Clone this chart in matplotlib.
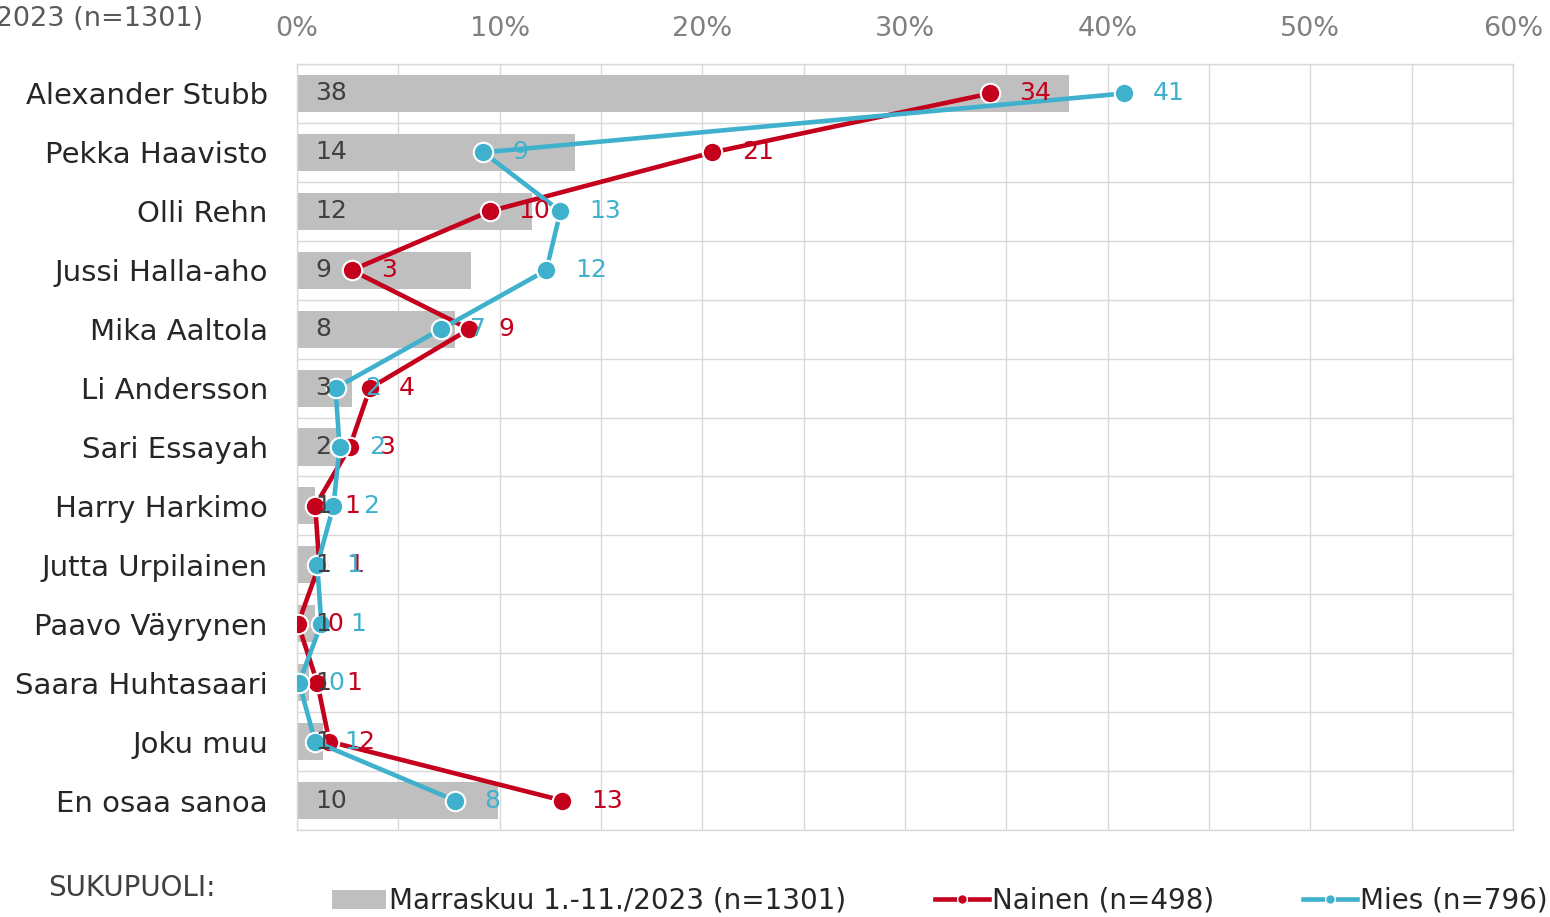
import matplotlib
matplotlib.use("Agg")
import matplotlib.pyplot as plt
from matplotlib.lines import Line2D
from matplotlib.patches import Patch
import numpy as np

plt.rcParams['font.family'] = ['DejaVu Sans']

# data (percent)
names = ["Alexander Stubb", "Pekka Haavisto", "Olli Rehn", "Jussi Halla-aho",
         "Mika Aaltola", "Li Andersson", "Sari Essayah", "Harry Harkimo",
         "Jutta Urpilainen", "Paavo Väyrynen", "Saara Huhtasaari", "Joku muu",
         "En osaa sanoa"]
total = [38.1, 13.7, 11.6, 8.6, 7.8, 2.7, 2.1, 0.9, 1.1, 0.9, 0.6, 1.3, 9.9]
nainen = [34.2, 20.5, 9.5, 2.7, 8.5, 3.6, 2.6, 0.9, 1.1, 0.05, 1.0, 1.6, 13.1]
mies = [40.8, 9.2, 13.0, 12.3, 7.1, 1.9, 2.1, 1.8, 1.0, 1.2, 0.1, 0.9, 7.8]

total_lbl = [38, 14, 12, 9, 8, 3, 2, 1, 1, 1, 1, 1, 10]
nainen_lbl = [34, 21, 10, 3, 9, 4, 3, 1, 1, 0, 1, 2, 13]
mies_lbl = [41, 9, 13, 12, 7, 2, 2, 2, 1, 1, 0, 1, 8]

RED = "#C4001C"
CYAN = "#40B1CD"
GREY = "#BFBFBF"
GRID = "#D9D9D9"

W, H = 1550, 917
fig = plt.figure(figsize=(W / 100, H / 100), dpi=100)
ax = fig.add_axes([297 / W, 1 - 830 / H, (1513 - 297) / W, (830 - 64) / H])

y = np.arange(len(names))
ax.barh(y, total, height=0.63, color=GREY, zorder=2)

ax.plot(nainen, y, color=RED, lw=3.3, marker="o", ms=14, mfc=RED,
        mec="white", mew=1.5, zorder=3)
ax.plot(mies, y, color=CYAN, lw=3.3, marker="o", ms=14, mfc=CYAN,
        mec="white", mew=1.5, zorder=4)

fs = 18
for i in range(len(names)):
    ax.text(0.9, y[i], str(total_lbl[i]), ha="left", va="center",
            fontsize=fs, color="#404040", zorder=6)
    ax.annotate(str(nainen_lbl[i]), (nainen[i], y[i]), xytext=(21, 0),
                textcoords="offset points", ha="left", va="center",
                fontsize=fs, color=RED, zorder=5)
    ax.annotate(str(mies_lbl[i]), (mies[i], y[i]), xytext=(21, 0),
                textcoords="offset points", ha="left", va="center",
                fontsize=fs, color=CYAN, zorder=5)

ax.set_xlim(0, 60)
ax.set_ylim(len(names) - 0.5, -0.5)

ax.xaxis.tick_top()
ax.set_xticks(np.arange(0, 61, 10))
ax.set_xticklabels([f"{v}%" for v in range(0, 61, 10)])
ax.set_xticks(np.arange(5, 60, 10), minor=True)
ax.tick_params(axis="x", which="both", length=0, pad=16, labelsize=19.5,
               labelcolor="#808080")
ax.set_yticks(y)
ax.set_yticklabels(names)
ax.tick_params(axis="y", length=0, pad=21, labelsize=21, labelcolor="#262626")

ax.set_yticks(np.arange(-0.5, len(names), 1), minor=True)
ax.grid(which="both", axis="x", color=GRID, lw=1, zorder=0)
ax.grid(which="minor", axis="y", color=GRID, lw=1, zorder=0)
ax.tick_params(axis="y", which="minor", length=0)
for s in ax.spines.values():
    s.set_color(GRID)
    s.set_linewidth(1)

fig.text(203 / W, 1 - 19 / H, "Marraskuu 1.-11./2023 (n=1301)", ha="right",
         va="center", fontsize=19.5, color="#595959")
fig.text(48 / W, 1 - 888 / H, "SUKUPUOLI:", ha="left", va="center",
         fontsize=20, color="#404040")

handles = [
    Patch(facecolor=GREY, edgecolor="none"),
    Line2D([], [], color=RED, lw=3.3, marker="o", ms=7, mfc=RED, mec="white"),
    Line2D([], [], color=CYAN, lw=3.3, marker="o", ms=7, mfc=CYAN, mec="white"),
]
labels = ["Marraskuu 1.-11./2023 (n=1301)", "Nainen (n=498)", "Mies (n=796)"]
fig.legend(handles, labels, loc="center left", bbox_to_anchor=(332 / W, 1 - 901 / H),
           ncol=3, frameon=False, fontsize=20, handlelength=1.95, handletextpad=0.1,
           columnspacing=3.2, labelcolor="#262626", borderaxespad=0, borderpad=0)

fig.savefig("out.png", dpi=100)
